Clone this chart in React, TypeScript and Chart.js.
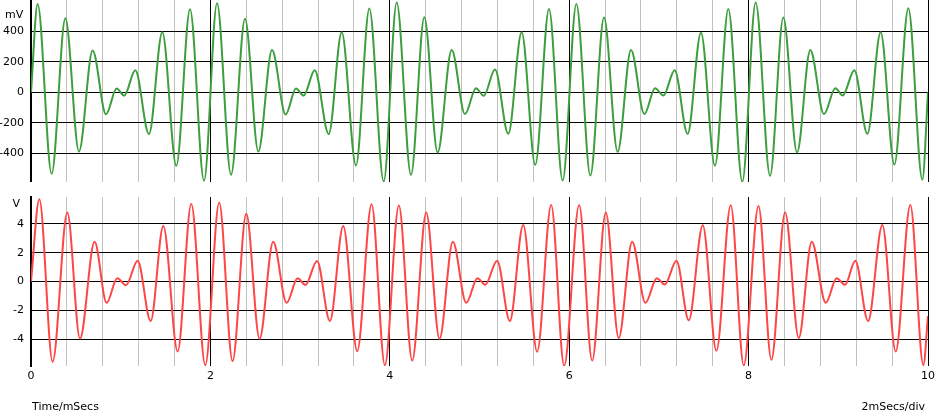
import React, { useEffect, useRef } from "react";
import { Chart, registerables } from "chart.js";

Chart.register(...registerables);

// ---- data (extrema of each trace) ----
const TOP_T = [0, 0.074, 0.230, 0.383, 0.535, 0.687, 0.836, 0.955, 1.040, 1.163, 1.315, 1.464, 1.620, 1.773, 1.929, 2.074, 2.230, 2.386, 2.534, 2.687, 2.839, 2.954, 3.040, 3.163, 3.319, 3.464, 3.623, 3.772, 3.932, 4.077, 4.236, 4.385, 4.533, 4.690, 4.838, 4.961, 5.047, 5.173, 5.321, 5.470, 5.622, 5.775, 5.927, 6.080, 6.236, 6.388, 6.540, 6.689, 6.838, 6.957, 7.050, 7.176, 7.320, 7.469, 7.625, 7.774, 7.930, 8.079, 8.239, 8.387, 8.540, 8.688, 8.840, 8.967, 9.049, 9.179, 9.324, 9.472, 9.625, 9.781, 9.937, 10];
const TOP_MV = [0, 582, -536, 488, -389, 275, -144, 25, -21, 146, -275, 396, -483, 547, -582, 586, -542, 485, -389, 279, -146, 25, -21, 146, -275, 396, -481, 552, -586, 591, -542, 494, -396, 279, -143, 27, -23, 150, -273, 396, -477, 549, -580, 582, -547, 492, -391, 279, -143, 27, -21, 146, -273, 393, -483, 549, -588, 591, -549, 492, -396, 279, -143, 27, -21, 146, -273, 396, -475, 553, -575, 0];

const BOT_T = [0, 0.093, 0.241, 0.405, 0.546, 0.709, 0.843, 0.962, 1.059, 1.189, 1.334, 1.475, 1.635, 1.787, 1.943, 2.098, 2.247, 2.400, 2.548, 2.700, 2.850, 2.972, 3.060, 3.189, 3.332, 3.481, 3.637, 3.797, 3.945, 4.101, 4.250, 4.406, 4.554, 4.703, 4.852, 4.978, 5.063, 5.197, 5.338, 5.487, 5.643, 5.799, 5.944, 6.111, 6.256, 6.408, 6.552, 6.702, 6.850, 6.977, 7.066, 7.196, 7.333, 7.489, 7.641, 7.801, 7.946, 8.110, 8.254, 8.407, 8.559, 8.704, 8.860, 8.982, 9.075, 9.190, 9.332, 9.491, 9.640, 9.803, 9.948, 10];
const BOT_V = [0, 5.71, -5.57, 4.78, -3.97, 2.76, -1.48, 0.23, -0.26, 1.44, -2.74, 3.85, -4.85, 5.38, -5.80, 5.48, -5.52, 4.69, -3.97, 2.76, -1.48, 0.23, -0.24, 1.43, -2.74, 3.85, -4.83, 5.36, -5.80, 5.27, -5.48, 4.78, -3.97, 2.76, -1.48, 0.23, -0.23, 1.44, -2.74, 3.92, -4.87, 5.31, -5.85, 5.31, -5.48, 4.78, -3.92, 2.76, -1.48, 0.23, -0.21, 1.44, -2.69, 3.90, -4.80, 5.29, -5.82, 5.24, -5.43, 4.78, -3.92, 2.76, -1.48, 0.23, -0.23, 1.44, -2.74, 3.92, -4.85, 5.31, -5.80, -2.4];

const X_GRID = [0, 0.4, 0.8, 1.2, 1.6, 2, 2.4, 2.8, 3.2, 3.6, 4, 4.4, 4.8, 5.2, 5.6, 6, 6.4, 6.8, 7.2, 7.6, 8, 8.4, 8.8, 9.2, 9.6, 10];
const X_MAJOR_LABELS = ["0", "2", "4", "6", "8", "10"];
const TOP_Y_TICKS = [-400, -200, 0, 200, 400];
const BOT_Y_TICKS = [-4, -2, 0, 2, 4];

const TOP_UNIT = "mV";
const BOT_UNIT = "V";
const X_TITLE = "Time/mSecs";
const X_DIV = "2mSecs/div";

const FONT_FAMILY = '"DejaVu Sans", Verdana, sans-serif';
const FONT = { family: FONT_FAMILY, size: 11 };

const isMajor = (v: number) => Math.abs(v / 2 - Math.round(v / 2)) < 1e-6;

type TextItem = { text: string; x: number; y: number; align: CanvasTextAlign };

function textPlugin(items: TextItem[]) {
  return {
    id: "texts",
    afterDraw(chart: any) {
      const ctx = chart.ctx;
      ctx.save();
      ctx.fillStyle = "#000";
      ctx.font = `11px ${FONT_FAMILY}`;
      ctx.textBaseline = "middle";
      for (const it of items) {
        ctx.textAlign = it.align;
        ctx.fillText(it.text, it.x, it.y);
      }
      ctx.restore();
    },
  };
}

function makeConfig(opts: {
  t: number[];
  v: number[];
  color: string;
  yMin: number;
  yMax: number;
  yTicks: number[];
  showXLabels: boolean;
  xHeight: number;
  padTop: number;
  texts: TextItem[];
}): any {
  return {
    type: "line",
    data: {
      datasets: [
        {
          data: opts.t.map((x, i) => ({ x, y: opts.v[i] })),
          borderColor: opts.color,
          borderWidth: 2,
          pointRadius: 0,
          fill: false,
          cubicInterpolationMode: "monotone",
        },
      ],
    },
    options: {
      animation: false,
      responsive: false,
      maintainAspectRatio: false,
      layout: { padding: { left: 0, right: 8, top: opts.padTop, bottom: 0 } },
      plugins: { legend: { display: false }, tooltip: { enabled: false }, title: { display: false } },
      scales: {
        x: {
          type: "linear",
          min: 0,
          max: 10,
          afterBuildTicks: (s: any) => {
            s.ticks = X_GRID.map((value) => ({ value }));
          },
          afterFit: (s: any) => {
            s.height = opts.xHeight;
            s.paddingLeft = 0;
            s.paddingRight = 0;
          },
          grid: {
            drawTicks: false,
            lineWidth: 1,
            color: (c: any) => (c.tick && !isMajor(c.tick.value) ? "#c0c0c0" : "#000000"),
          },
          border: { display: false },
          ticks: {
            display: opts.showXLabels,
            autoSkip: false,
            maxRotation: 0,
            minRotation: 0,
            padding: 4,
            color: "#000",
            font: FONT,
            callback: (val: number) => (isMajor(val) ? X_MAJOR_LABELS[Math.round(val / 2)] : ""),
          },
        },
        y: {
          type: "linear",
          min: opts.yMin,
          max: opts.yMax,
          afterBuildTicks: (s: any) => {
            s.ticks = opts.yTicks.map((value) => ({ value }));
          },
          afterFit: (s: any) => {
            s.width = 31;
            s.paddingTop = 0;
            s.paddingBottom = 0;
          },
          grid: { drawTicks: false, color: "#000000", lineWidth: 1 },
          border: { display: true, color: "#000000", width: 2 },
          ticks: {
            padding: 7,
            color: "#000",
            font: FONT,
            callback: (val: number) => String(val),
          },
        },
      },
    },
    plugins: [textPlugin(opts.texts)],
  };
}

function Panel(props: { top: number; height: number; config: any }) {
  const ref = useRef<HTMLCanvasElement | null>(null);
  useEffect(() => {
    if (!ref.current) return;
    const chart = new Chart(ref.current, props.config);
    return () => chart.destroy();
  }, []);
  return (
    <canvas
      ref={ref}
      width={936}
      height={props.height}
      style={{ position: "absolute", left: 0, top: props.top, width: 936, height: props.height }}
    />
  );
}

export default function App() {
  const topCfg = makeConfig({
    t: TOP_T,
    v: TOP_MV,
    color: "#3c9e3c",
    yMin: -590,
    yMax: 608,
    yTicks: TOP_Y_TICKS,
    showXLabels: false,
    xHeight: 0,
    padTop: 0,
    texts: [{ text: TOP_UNIT, x: 5, y: 15, align: "left" }],
  });
  const botCfg = makeConfig({
    t: BOT_T,
    v: BOT_V,
    color: "#ff4646",
    yMin: -5.86,
    yMax: 5.86,
    yTicks: BOT_Y_TICKS,
    showXLabels: true,
    xHeight: 47,
    padTop: 7,
    texts: [
      { text: BOT_UNIT, x: 12.5, y: 14, align: "left" },
      { text: X_TITLE, x: 32, y: 217, align: "left" },
      { text: X_DIV, x: 925, y: 217, align: "right" },
    ],
  });
  return (
    <div style={{ position: "fixed", left: 0, top: 0, width: 936, height: 413, background: "#fff", overflow: "hidden" }}>
      <Panel top={0} height={182} config={topCfg} />
      <Panel top={190} height={223} config={botCfg} />
    </div>
  );
}
